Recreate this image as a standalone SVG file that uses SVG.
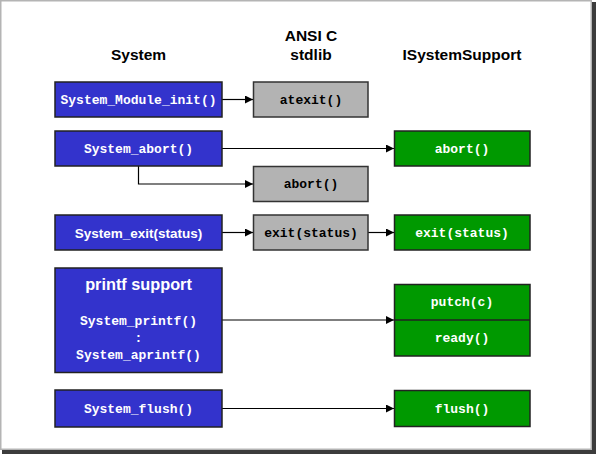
<svg xmlns="http://www.w3.org/2000/svg" width="596" height="454" viewBox="0 0 596 454">
<defs>
<style>
.hdr{font-family:"Liberation Sans",Arial,sans-serif;font-weight:bold;font-size:15.5px;fill:#000;text-anchor:middle}
.mono{font-family:"Liberation Mono","Courier New",monospace;font-weight:bold;font-size:13px;text-anchor:middle}
.sans{font-family:"Liberation Sans",Arial,sans-serif;font-weight:bold;font-size:13.5px;text-anchor:middle;fill:#fff}
.w{fill:#fff}
.k{fill:#000}
.blue{fill:#3333CC;stroke:#222;stroke-width:1.5}
.gray{fill:#B3B3B3;stroke:#333;stroke-width:1.5}
.green{fill:#009900;stroke:#222;stroke-width:1.5}
.conn{fill:none;stroke:#000;stroke-width:1.2}
</style>
<marker id="arr" viewBox="0 0 10 10" refX="10" refY="5" markerWidth="8" markerHeight="8" markerUnits="userSpaceOnUse" orient="auto">
<path d="M0,0 L10,5 L0,10 Z" fill="#000"/>
</marker>
</defs>
<rect x="0" y="0" width="596" height="454" fill="#fff"/>
<rect x="0.75" y="0.75" width="590.5" height="448.5" fill="none" stroke="#b4b4b4" stroke-width="1.5"/>
<rect x="592" y="2" width="4" height="452" fill="#3c3c3c"/>
<rect x="2" y="450" width="594" height="4" fill="#3c3c3c"/>

<g id="headers">
<text class="hdr" x="138.5" y="60">System</text>
<text class="hdr" x="311" y="40.5">ANSI C</text>
<text class="hdr" x="311" y="60">stdlib</text>
<text class="hdr" x="462" y="60">ISystemSupport</text>
</g>

<g id="connectors">
<path class="conn" d="M222,99.5 H253" marker-end="url(#arr)"/>
<path class="conn" d="M222,148.5 H394" marker-end="url(#arr)"/>
<path class="conn" d="M138.5,166 V184 H253" marker-end="url(#arr)"/>
<path class="conn" d="M222,232.5 H253" marker-end="url(#arr)"/>
<path class="conn" d="M368,232.5 H394" marker-end="url(#arr)"/>
<path class="conn" d="M222,320 H394" marker-end="url(#arr)"/>
<path class="conn" d="M222,408.5 H394" marker-end="url(#arr)"/>
</g>

<g id="sys_module_init">
<rect class="blue" x="55" y="82" width="167" height="35"/>
<text class="mono w" x="138.5" y="103.5">System_Module_init()</text>
</g>
<g id="atexit">
<rect class="gray" x="253.5" y="82" width="114.5" height="35"/>
<text class="mono k" x="311" y="103.5">atexit()</text>
</g>
<g id="sys_abort">
<rect class="blue" x="55" y="131" width="167" height="35"/>
<text class="mono w" x="138.5" y="152.5">System_abort()</text>
</g>
<g id="isys_abort">
<rect class="green" x="394.5" y="131" width="135.5" height="35"/>
<text class="mono w" x="462" y="152.5">abort()</text>
</g>
<g id="ansi_abort">
<rect class="gray" x="253.5" y="166.5" width="114.5" height="35"/>
<text class="mono k" x="311" y="188">abort()</text>
</g>
<g id="sys_exit">
<rect class="blue" x="55" y="215" width="167" height="35"/>
<text class="sans" x="138.5" y="237.5">System_exit(status)</text>
</g>
<g id="ansi_exit">
<rect class="gray" x="253.5" y="215" width="114.5" height="35"/>
<text class="mono k" x="311" y="236.5">exit(status)</text>
</g>
<g id="isys_exit">
<rect class="green" x="394.5" y="215" width="135.5" height="35"/>
<text class="mono w" x="462" y="236.5">exit(status)</text>
</g>
<g id="printf_support">
<rect class="blue" x="55" y="268" width="167" height="104.5"/>
<text class="sans" style="font-size:16.3px" x="138.5" y="290">printf support</text>
<text class="mono w" x="138.5" y="325">System_printf()</text>
<text class="mono w" x="138.5" y="342">:</text>
<text class="mono w" x="138.5" y="358.5">System_aprintf()</text>
</g>
<g id="putch_ready">
<rect class="green" x="394.5" y="284.5" width="135.5" height="71.5"/>
<line x1="394.5" y1="320" x2="530" y2="320" stroke="#222" stroke-width="1.5"/>
<text class="mono w" x="462" y="306">putch(c)</text>
<text class="mono w" x="462" y="342">ready()</text>
</g>
<g id="sys_flush">
<rect class="blue" x="55" y="390" width="167" height="37"/>
<text class="mono w" x="138.5" y="412.5">System_flush()</text>
</g>
<g id="isys_flush">
<rect class="green" x="394.5" y="390.5" width="135.5" height="36"/>
<text class="mono w" x="462" y="412.5">flush()</text>
</g>
</svg>
